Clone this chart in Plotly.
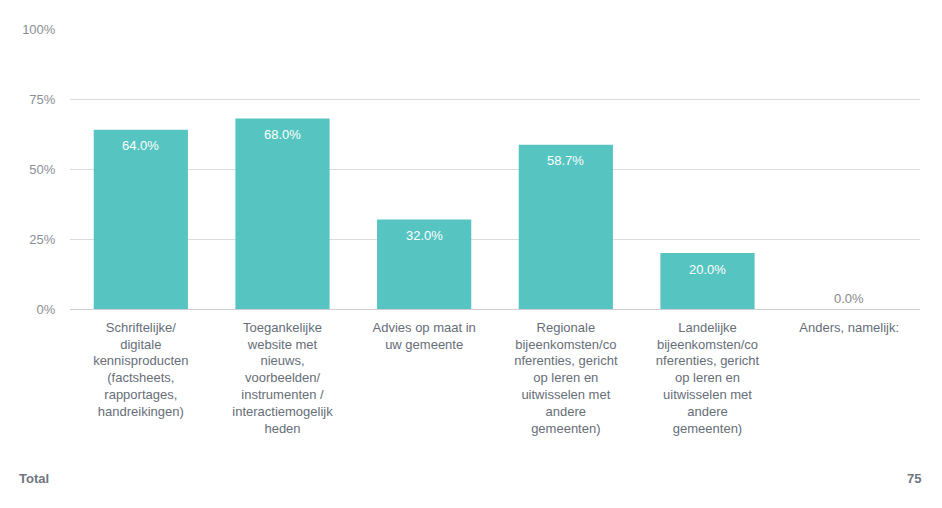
import plotly.graph_objects as go

categories = [
    "Schriftelijke/<br>digitale<br>kennisproducten<br>(factsheets,<br>rapportages,<br>handreikingen)",
    "Toegankelijke<br>website met<br>nieuws,<br>voorbeelden/<br>instrumenten /<br>interactiemogelijk<br>heden",
    "Advies op maat in<br>uw gemeente",
    "Regionale<br>bijeenkomsten/co<br>nferenties, gericht<br>op leren en<br>uitwisselen met<br>andere<br>gemeenten)",
    "Landelijke<br>bijeenkomsten/co<br>nferenties, gericht<br>op leren en<br>uitwisselen met<br>andere<br>gemeenten)",
    "Anders, namelijk:",
]
values = [64.0, 68.0, 32.0, 58.7, 20.0, 0.0]
tick_vals = [0, 25, 50, 75, 100]
tick_text = ["0%", "25%", "50%", "75%", "100%"]
total_label = "Total"
total_value = "75"

FONT = "Arial, Liberation Sans, sans-serif"
BAR = "#56c4c0"
x_idx = list(range(len(categories)))

fig = go.Figure()
fig.add_trace(go.Bar(x=x_idx, y=values, marker=dict(color=BAR, line=dict(width=0)),
                     hoverinfo="skip"))

for i, v in zip(x_idx, values):
    if v > 5:
        fig.add_annotation(x=i, y=v, text=f"{v:.1f}%", showarrow=False, yanchor="middle",
                           yshift=-16, font=dict(family=FONT, size=13, color="white"))
    else:
        fig.add_annotation(x=i, y=v, text=f"{v:.1f}%", showarrow=False, yanchor="middle",
                           yshift=11, font=dict(family=FONT, size=13, color="#888888"))

fig.add_annotation(xref="paper", yref="paper", x=-0.062, y=-0.6036, xanchor="left",
                   yanchor="middle", text=f"<b>{total_label}</b>", showarrow=False,
                   font=dict(family=FONT, size=13, color="#6f7680"))
fig.add_annotation(xref="paper", yref="paper", x=1.003, y=-0.6036, xanchor="right",
                   yanchor="middle", text=f"<b>{total_value}</b>", showarrow=False,
                   font=dict(family=FONT, size=13, color="#6f7680"))

fig.update_layout(
    width=942, height=508,
    margin=dict(l=62, r=30, t=21, b=207),
    plot_bgcolor="white", paper_bgcolor="white",
    bargap=0.335, showlegend=False,
    font=dict(family=FONT, size=13, color="#666e78"),
    xaxis=dict(tickmode="array", tickvals=x_idx, ticktext=categories,
               range=[-0.5, len(categories) - 0.5], showgrid=False, zeroline=False,
               ticks="outside", ticklen=6, tickcolor="rgba(0,0,0,0)",
               tickfont=dict(family=FONT, size=13, color="#666e78"), tickangle=0,
               showline=False, fixedrange=True),
    yaxis=dict(range=[0, 100], tickmode="array", tickvals=tick_vals, ticktext=tick_text,
               showgrid=True, gridcolor="#dcdcdc", gridwidth=1, zeroline=True,
               zerolinecolor="#cfcfcf", zerolinewidth=1,
               ticks="outside", ticklen=11, tickcolor="rgba(0,0,0,0)",
               tickfont=dict(family=FONT, size=13, color="#8a8f96"), showline=False,
               fixedrange=True),
)

fig.write_html("out.html")
